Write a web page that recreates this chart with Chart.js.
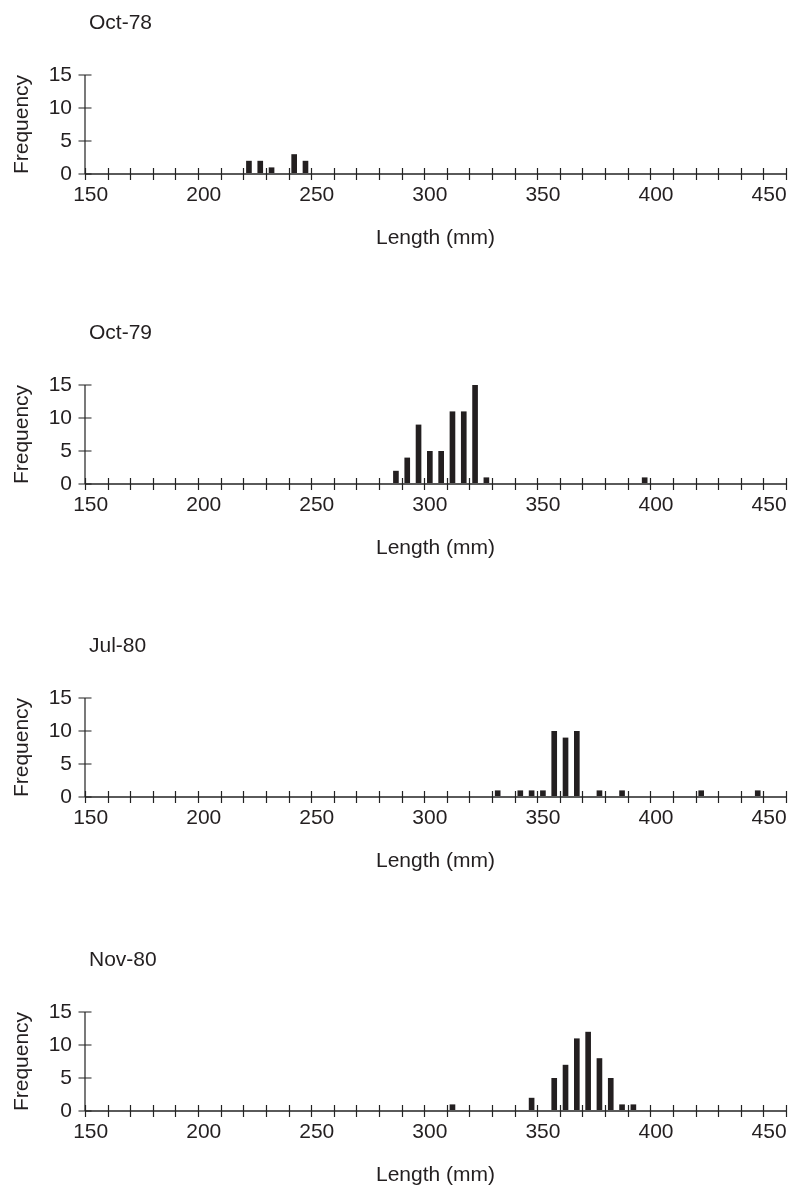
<!DOCTYPE html>
<html>
<head>
<meta charset="utf-8">
<script src="https://cdn.jsdelivr.net/npm/chart.js@4.4.1/dist/chart.umd.min.js"></script>
<style>
  html, body { margin: 0; padding: 0; background: #fff; overflow: hidden; }
  .panel { position: absolute; left: 0; width: 790px; height: 255px; }
</style>
</head>
<body>
<div class="panel" style="top:0px"><canvas id="c0" width="790" height="255"></canvas></div>
<div class="panel" style="top:310px"><canvas id="c1" width="790" height="255"></canvas></div>
<div class="panel" style="top:623px"><canvas id="c2" width="790" height="255"></canvas></div>
<div class="panel" style="top:937px"><canvas id="c3" width="790" height="255"></canvas></div>
<script>
// length classes (mm), 5 mm bins
const lengthBins = [150, 155, 160, 165, 170, 175, 180, 185, 190, 195,
  200, 205, 210, 215, 220, 225, 230, 235, 240, 245,
  250, 255, 260, 265, 270, 275, 280, 285, 290, 295,
  300, 305, 310, 315, 320, 325, 330, 335, 340, 345,
  350, 355, 360, 365, 370, 375, 380, 385, 390, 395,
  400, 405, 410, 415, 420, 425, 430, 435, 440, 445,
  450, 455];
const shownLengths = [150, 200, 250, 300, 350, 400, 450];
const freqTicks = [0, 5, 10, 15];

// samples: occupied bins and their counts
const oct78Lengths = [220, 225, 230, 240, 245];
const oct78Counts  = [2, 2, 1, 3, 2];
const oct79Lengths = [285, 290, 295, 300, 305, 310, 315, 320, 325, 395];
const oct79Counts  = [2, 4, 9, 5, 5, 11, 11, 15, 1, 1];
const jul80Lengths = [330, 340, 345, 350, 355, 360, 365, 375, 385, 420, 445];
const jul80Counts  = [1, 1, 1, 1, 10, 9, 10, 1, 1, 1, 1];
const nov80Lengths = [310, 345, 355, 360, 365, 370, 375, 380, 385, 390];
const nov80Counts  = [1, 2, 5, 7, 11, 12, 8, 5, 1, 1];

const panelTitles = ['Oct-78', 'Oct-79', 'Jul-80', 'Nov-80'];
const panelLengths = [oct78Lengths, oct79Lengths, jul80Lengths, nov80Lengths];
const panelCounts = [oct78Counts, oct79Counts, jul80Counts, nov80Counts];

const INK = '#231f20';
const FONT = "'Liberation Sans', Arial, Helvetica, sans-serif";
const FS = 21;

// title text, axis lines and tick marks that cross the axes
const axesPlugin = {
  id: 'axesPlugin',
  afterDraw(chart, args, opts) {
    const ctx = chart.ctx;
    const xs = chart.scales.x, ys = chart.scales.y;
    const area = chart.chartArea;
    const y0 = ys.getPixelForValue(0);
    const yTop = ys.getPixelForValue(15);
    const n = xs.getLabels().length;
    const step = (xs.right - xs.left) / n;
    ctx.save();
    // x axis line
    ctx.strokeStyle = '#5a5a5a';
    ctx.lineWidth = 2;
    ctx.beginPath();
    ctx.moveTo(area.left, y0);
    ctx.lineTo(area.right, y0);
    ctx.stroke();
    // ticks every 10 mm, between bins
    ctx.strokeStyle = '#222';
    ctx.lineWidth = 1.2;
    ctx.beginPath();
    for (let i = 0; i <= n; i += 2) {
      const px = Math.round(xs.left + i * step) + 0.5;
      ctx.moveTo(px, y0 - 6);
      ctx.lineTo(px, y0 + 6);
    }
    ctx.stroke();
    // y axis line and ticks
    ctx.beginPath();
    ctx.moveTo(area.left, yTop);
    ctx.lineTo(area.left, y0);
    freqTicks.forEach(v => {
      const py = ys.getPixelForValue(v);
      ctx.moveTo(area.left - 6.5, py);
      ctx.lineTo(area.left + 6.5, py);
    });
    ctx.stroke();
    // panel title
    ctx.fillStyle = INK;
    ctx.font = FS + 'px ' + FONT;
    ctx.textAlign = 'left';
    ctx.textBaseline = 'alphabetic';
    ctx.fillText(opts.text, 89, 29);
    ctx.restore();
  }
};

function makePanel(idx) {
  const lengths = panelLengths[idx];
  const counts = panelCounts[idx];
  const points = lengths.map((l, i) => ({ x: String(l), y: counts[i] }));
  new Chart(document.getElementById('c' + idx), {
    type: 'bar',
    data: {
      labels: lengthBins.map(String),
      datasets: [{
        data: points,
        backgroundColor: INK,
        borderWidth: 0,
        barPercentage: 0.5,
        categoryPercentage: 1.0
      }]
    },
    options: {
      responsive: false,
      animation: false,
      devicePixelRatio: 1,
      layout: { padding: { top: 75, right: 4, bottom: 0, left: 0 } },
      plugins: {
        legend: { display: false },
        tooltip: { enabled: false },
        axesPlugin: { text: panelTitles[idx] }
      },
      scales: {
        x: {
          type: 'category',
          offset: true,
          grid: { display: false, drawTicks: false },
          border: { display: false },
          ticks: {
            autoSkip: false,
            maxRotation: 0,
            minRotation: 0,
            padding: 9,
            color: INK,
            font: { family: FONT, size: FS },
            callback(value) {
              const v = Number(this.getLabelForValue(value));
              return shownLengths.includes(v) ? String(v) : '';
            }
          },
          title: {
            display: true,
            text: 'Length (mm)',
            color: INK,
            font: { family: FONT, size: FS },
            padding: { top: 0, bottom: 4 }
          },
          afterFit(scale) { scale.height = 81; }
        },
        y: {
          min: 0,
          max: 15,
          grid: { display: false, drawTicks: false },
          border: { display: false },
          ticks: {
            stepSize: 5,
            padding: 13,
            color: INK,
            font: { family: FONT, size: FS }
          },
          title: {
            display: true,
            text: 'Frequency',
            color: INK,
            font: { family: FONT, size: FS },
            padding: { top: 10, bottom: 0 }
          },
          afterFit(scale) { scale.width = 85; }
        }
      }
    },
    plugins: [axesPlugin]
  });
}

panelTitles.forEach((t, i) => makePanel(i));
</script>
</body>
</html>
